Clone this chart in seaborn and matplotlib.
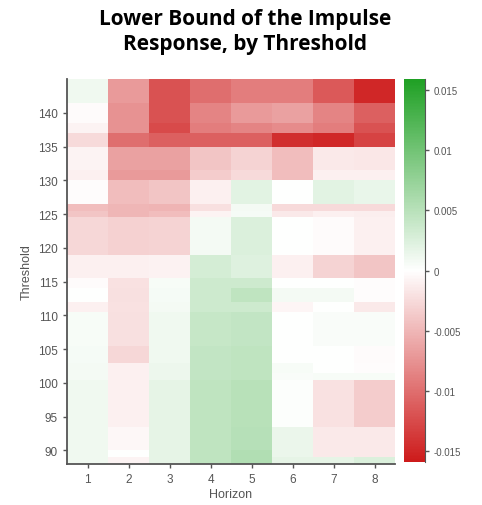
import numpy as np
import pandas as pd
import seaborn as sns
import matplotlib.pyplot as plt
from matplotlib.colors import LinearSegmentedColormap

# Row blocks of the heatmap (threshold ranges, top to bottom)
block_top = [145, 141.5, 138.5, 137, 135, 131.5, 130, 126.5, 125.5, 124.5, 119,
             115.5, 114, 112, 110.5, 105.5, 103, 101.5, 100.5, 93.5, 90, 89]
block_bottom = [141.5, 138.5, 137, 135, 131.5, 130, 126.5, 125.5, 124.5, 119, 115.5,
                114, 112, 110.5, 105.5, 103, 101.5, 100.5, 93.5, 90, 89, 88]

# Lower bound of the impulse response per horizon, one value per block
h1 = [0.001, -0.0003, -0.0008, -0.0025, -0.0008, -0.001, -0.0002, -0.0045, -0.004, -0.0028, -0.001,
      -0.0003, 0.0, -0.001, 0.0005, 0.0007, 0.0008, 0.0008, 0.001, 0.001, 0.001, 0.001]
h2 = [-0.007, -0.0075, -0.0075, -0.010, -0.0065, -0.007, -0.0045, -0.005, -0.005, -0.0032, -0.001,
      -0.002, -0.0022, -0.002, -0.0022, -0.0028, -0.001, -0.001, -0.001, -0.0005, 0.0, -0.0008]
h3 = [-0.012, -0.012, -0.0125, -0.011, -0.0065, -0.007, -0.004, -0.0052, -0.0045, -0.003, -0.0009,
      0.0005, 0.0007, 0.0008, 0.001, 0.001, 0.0013, 0.0013, 0.0018, 0.0018, 0.0018, 0.0018]
h4 = [-0.010, -0.0085, -0.009, -0.011, -0.004, -0.0035, -0.001, -0.0022, -0.0008, 0.0008, 0.003,
      0.0035, 0.0035, 0.0035, 0.004, 0.0043, 0.0043, 0.0043, 0.0045, 0.0045, 0.0045, 0.0045]
h5 = [-0.009, -0.007, -0.0085, -0.011, -0.003, -0.0025, 0.002, 0.0008, 0.0007, 0.0025, 0.0023,
      0.0035, 0.0045, 0.0035, 0.0043, 0.0045, 0.0045, 0.0045, 0.005, 0.0052, 0.0055, 0.0055]
h6 = [-0.009, -0.0065, -0.008, -0.0145, -0.0045, -0.0045, 0.0, -0.0025, -0.0015, 0.0, -0.001,
      0.0, 0.0008, -0.0007, 0.0, 0.0, 0.0006, 0.0004, 0.0002, 0.0014, 0.0014, 0.0018]
h7 = [-0.0115, -0.0085, -0.009, -0.015, -0.0015, -0.001, 0.002, -0.0025, -0.001, -0.0003, -0.003,
      0.0, 0.0008, 0.0, 0.0004, 0.0, 0.0, 0.0006, -0.002, -0.0015, -0.0015, 0.0018]
h8 = [-0.015, -0.011, -0.012, -0.013, -0.0017, -0.001, 0.0015, -0.0025, -0.0012, -0.001, -0.004,
      -0.0002, -0.0002, -0.0015, 0.0004, -0.0003, -0.0002, 0.0006, -0.0035, -0.0015, -0.0015, 0.0025]

horizons = [1, 2, 3, 4, 5, 6, 7, 8]
y_ticks = [90, 95, 100, 105, 110, 115, 120, 125, 130, 135, 140]
cbar_ticks = [-0.015, -0.01, -0.005, 0, 0.005, 0.01, 0.015]
cbar_labels = ["-0.015", "-0.01", "-0.005", "0", "0.005", "0.01", "0.015"]

# expand blocks into half-unit threshold rows
step = 0.5
top_thr = block_top[0]
reps = [int(round((t - b) / step)) for t, b in zip(block_top, block_bottom)]
cols = [h1, h2, h3, h4, h5, h6, h7, h8]
grid = {h: np.repeat(c, reps) for h, c in zip(horizons, cols)}
df = pd.DataFrame(grid)

cmap = LinearSegmentedColormap.from_list("rwg", ["#cd1a1a", "#ffffff", "#1fa024"])

fig = plt.figure(figsize=(4.82, 5.06), dpi=100)
ax = fig.add_axes([67 / 482, 1 - 465 / 506, 328 / 482, 385 / 506])
cax = fig.add_axes([404 / 482, 1 - 463 / 506, 21 / 482, 383 / 506])

sns.heatmap(df, ax=ax, cbar_ax=cax, cmap=cmap, vmin=-0.0159, vmax=0.0159,
            xticklabels=horizons, yticklabels=False)

grey = "#555555"
ax.set_yticks([(top_thr - t) / step for t in y_ticks])
ax.set_yticklabels(y_ticks)
for s in ["left", "bottom"]:
    ax.spines[s].set_visible(True)
    ax.spines[s].set_color(grey)
    ax.spines[s].set_linewidth(1.3)
ax.tick_params(axis="both", colors=grey, labelcolor="#555555", labelsize=8.5,
               length=3, width=1, direction="out")
ax.tick_params(axis="y", rotation=0)
for lab in ax.get_xticklabels() + ax.get_yticklabels():
    lab.set_family("Liberation Sans")
ax.set_xlabel("Horizon", fontsize=9, color=grey, family="Liberation Sans", labelpad=2)
ax.set_ylabel("Threshold", fontsize=9, color=grey, family="Liberation Sans", labelpad=4)

cax.set_yticks(cbar_ticks)
cax.set_yticklabels(cbar_labels)
cax.tick_params(colors=grey, labelsize=7, length=3, width=1)
for lab in cax.get_yticklabels():
    lab.set_family("Liberation Sans")
cax.spines["right"].set_visible(True)
cax.spines["right"].set_color(grey)

fig.text(0.508, 0.982, "Lower Bound of the Impulse\nResponse, by Threshold",
         ha="center", va="top", fontsize=15, fontweight="bold",
         family="Open Sans", linespacing=1.25)

fig.savefig("out.png", dpi=100)
